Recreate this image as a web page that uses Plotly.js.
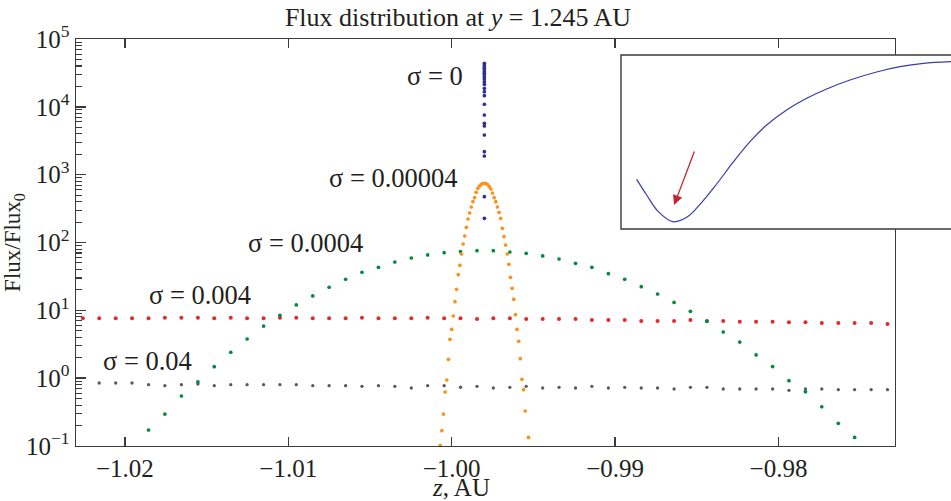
<!DOCTYPE html>
<html>
<head>
<meta charset="utf-8">
<script src="https://cdn.plot.ly/plotly-3.0.1.min.js"></script>
<style>
html,body{margin:0;padding:0;overflow:hidden;background:#fff;}
#chart{width:951px;height:501px;}
</style>
</head>
<body>
<div id="chart"></div>
<script>
// ---- data ----
// common z grid (AU) for sigma = 0.0004, 0.004, 0.04
const zGrid = [-1.02257,-1.02157,-1.02056,-1.01956,-1.01855,-1.01755,-1.01654,-1.01553,-1.01453,-1.01352,
  -1.01252,-1.01151,-1.01051,-1.00951,-1.00850,-1.00750,-1.00649,-1.00549,-1.00448,-1.00348,
  -1.00247,-1.00147,-1.00046,-0.99946,-0.99845,-0.99745,-0.99644,-0.99544,-0.99443,-0.99343,
  -0.99242,-0.99142,-0.99041,-0.98941,-0.98840,-0.98740,-0.98639,-0.98539,-0.98438,-0.98338,
  -0.98237,-0.98137,-0.98036,-0.97936,-0.97835,-0.97735,-0.97634,-0.97534,-0.97433,-0.97333];

// sigma = 0.004 (red), all 50 grid points
const fluxS004 = [7.63,7.63,7.63,7.63,7.63,7.79,7.79,7.79,7.63,7.79,7.63,7.63,7.79,7.79,7.63,7.63,7.63,7.79,7.63,7.63,
  7.63,7.79,7.63,7.63,7.45,7.63,7.63,7.45,7.45,7.45,7.45,7.20,7.20,7.20,6.96,6.96,6.96,7.20,6.96,6.96,
  6.80,6.80,6.80,6.66,6.66,6.51,6.51,6.51,6.51,6.29];

// sigma = 0.04 (grey), grid points 1..49
const zS04 = zGrid.slice(1);
const fluxS04 = [0.849,0.849,0.849,0.801,0.774,0.801,0.82,0.774,0.801,0.801,0.801,0.801,0.801,0.774,0.774,0.774,0.759,0.774,0.759,0.716,
  0.774,0.774,0.735,0.759,0.716,0.732,0.759,0.716,0.732,0.716,0.759,0.716,0.732,0.716,0.716,0.692,0.732,0.732,0.692,0.692,
  0.692,0.692,0.662,0.692,0.692,0.677,0.677,0.677,0.677];

// sigma = 0.0004 (green), grid points 4..47
const zS0004 = zGrid.slice(4, 48);
const fluxS0004 = [0.172,0.296,0.546,0.879,1.476,2.41,3.78,5.87,8.45,12.0,16.3,21.9,28.7,36.4,43.1,51.6,59.1,65.5,70.8,73.2,
  75.7,75.7,72.4,69.3,63.3,57.1,49.4,43.1,34.7,28.7,22.3,17.4,13.1,9.68,6.89,4.79,3.41,2.20,1.48,0.918,
  0.633,0.379,0.216,0.134];

// sigma = 0.00004 (orange), fine grid
const zS00004 = [-1.0007,-1.0006,-1.0005,-1.0004,-1.0003,-1.0002,-1.0001,-1.0000,-0.9999,-0.9998,
  -0.9997,-0.9996,-0.9995,-0.9994,-0.9993,-0.9992,-0.9991,-0.9990,-0.9989,-0.9988,
  -0.9987,-0.9986,-0.9985,-0.9984,-0.9983,-0.9982,-0.9981,-0.9980,
  -0.9979,-0.9978,-0.9977,-0.9976,-0.9975,-0.9974,-0.9973,-0.9972,-0.9971,-0.9970,
  -0.9969,-0.9968,-0.9967,-0.9966,-0.9965,-0.9964,-0.9963,-0.9962,-0.9961,-0.9960,
  -0.9959,-0.9958,-0.9957,-0.9956,-0.9955,-0.9953];
const fluxS00004 = [0.1024,0.168,0.296,0.625,0.940,1.898,3.742,5.254,8.254,13.41,
  20.43,33.53,46.13,67.69,95.1,124.7,167.6,222.2,272.4,333.9,
  399.6,457.8,549.9,629.9,681.1,714.2,738.9,746.4,
  738.9,714.2,665.1,615.2,537.0,457.8,399.6,333.9,278.9,227.5,
  162.0,121.8,91.9,67.69,47.7,30.7,21.1,14.55,8.62,5.25,
  3.50,1.936,0.962,0.676,0.328,0.134];

// sigma = 0 (blue), a single column
const zS0 = [-0.9980,-0.9980,-0.9980,-0.9980,-0.9980,-0.9980,-0.9980,-0.9980,-0.9980,-0.9980,-0.9980,-0.9980,
  -0.9980,-0.9980,-0.9980,-0.9980,-0.9980,-0.9980,-0.9980,-0.9980,-0.9980,-0.9980,-0.9980,-0.9980];
const fluxS0 = [43850,41400,39080,36990,34920,32970,31250,29500,27550,25760,23500,21490,
  18760,16720,14590,10910,7585,5717,5220,3846,2183,1885,473.5,227.5];

// inset curve (arbitrary normalised units)
const insetX = [0.0475,0.0778,0.1131,0.1566,0.1990,0.2394,0.2899,0.3404,0.3909,0.4414,0.5020,0.5626,0.6232,0.6939,0.7747,0.8455,0.9162,1.0];
const insetY = [0.2854,0.1954,0.0996,0.0421,0.0670,0.1418,0.2586,0.3851,0.5019,0.5977,0.6839,0.7510,0.8046,0.8563,0.9023,0.9330,0.9521,0.9617];

// tick labels
const xTickVals = [-1.02,-1.01,-1.00,-0.99,-0.98];
const xTickText = ['\u22121.02','\u22121.01','\u22121.00','\u22120.99','\u22120.98'];
const yTickVals = [0.1,1,10,100,1000,10000,100000];
const yTickText = ['10<sup>\u22121</sup>','10<sup>0</sup>','10<sup>1</sup>','10<sup>2</sup>','10<sup>3</sup>','10<sup>4</sup>','10<sup>5</sup>'];

const labels = [
  {text:'\u03c3 = 0', z:-1.00102, ly:4.455},
  {text:'\u03c3 = 0.00004', z:-1.00357, ly:2.947},
  {text:'\u03c3 = 0.0004', z:-1.00894, ly:1.993},
  {text:'\u03c3 = 0.004', z:-1.01539, ly:1.226},
  {text:'\u03c3 = 0.04', z:-1.0186, ly:0.253}
];

// ---- styles ----
const FONT = 'Liberation Serif, Times New Roman, serif';
const INK = '#231f20';
const AX = '#3a3a3a';

const minorVals = [];
for (let p = -1; p < 5; p++) for (let k = 2; k <= 9; k++) minorVals.push(k * Math.pow(10, p));

function pts(x, y, color, size) {
  return {x:x, y:y, type:'scatter', mode:'markers', xaxis:'x', yaxis:'y',
    marker:{color:color, size:size, line:{width:0}}, hoverinfo:'skip', showlegend:false};
}

const traces = [
  pts(zS04, fluxS04, '#5a5a5c', 3.3),
  pts(zGrid, fluxS004, '#e8262c', 4),
  pts(zS0004, fluxS0004, '#008a3e', 3.7),
  pts(zS00004, fluxS00004, '#f7931e', 3.7),
  pts(zS0, fluxS0, '#2e3192', 3.7),
  {x:insetX, y:insetY, type:'scatter', mode:'lines', xaxis:'x2', yaxis:'y2',
   line:{color:'#3c3ca8', width:1.2, shape:'spline', smoothing:1}, hoverinfo:'skip', showlegend:false}
];

const W = 951, H = 501, L = 76, R = 0, T = 39, B = 55;
const pw = W - L - R, ph = H - T - B;
const px2paperX = p => (p - L) / pw;
const px2paperY = p => (H - B - p) / ph;

const annotations = labels.map(l => ({
  text:l.text, x:l.z, y:l.ly, xref:'x', yref:'y', showarrow:false,
  xanchor:'center', yanchor:'middle', font:{family:FONT, size:26.5, color:INK}
}));
annotations.push({text:'<i>z</i>, AU', xref:'paper', yref:'paper', x:px2paperX(461), y:px2paperY(487),
  xanchor:'center', yanchor:'middle', showarrow:false, font:{family:FONT, size:25, color:INK}});
annotations.push({text:'', x:0.161, y:0.138, xref:'x2', yref:'y2', ax:0.224, ay:0.454, axref:'x2', ayref:'y2',
  showarrow:true, arrowhead:2, arrowsize:1.5, arrowwidth:1.3, arrowcolor:'#c4262e'});

const layout = {
  width:W, height:H,
  margin:{l:L, r:R, t:T, b:B, pad:0},
  paper_bgcolor:'#fff', plot_bgcolor:'#fff',
  font:{family:FONT, size:25, color:INK},
  showlegend:false,
  title:{text:'Flux distribution at <i>y</i> = 1.245 AU', font:{family:FONT, size:26, color:INK},
    x:px2paperX(458), xref:'paper', xanchor:'center', y:1 - 17/H, yref:'container', yanchor:'middle'},
  xaxis:{domain:[0, (895 - L) / pw], range:[-1.02299, -0.97287], showgrid:false, zeroline:false,
    showline:true, linecolor:AX, linewidth:1.4, mirror:'ticks',
    ticks:'inside', ticklen:9, tickwidth:1.4, tickcolor:AX,
    tickmode:'array', tickvals:xTickVals, ticktext:xTickText,
    tickfont:{family:FONT, size:25, color:INK}, anchor:'y'},
  yaxis:{type:'log', range:[-1, 5], showgrid:false, zeroline:false,
    showline:true, linecolor:AX, linewidth:1.4, mirror:true,
    ticks:'inside', ticklen:10, tickwidth:1.4, tickcolor:AX,
    tickmode:'array', tickvals:yTickVals, ticktext:yTickText,
    minor:{tickmode:'array', tickvals:minorVals, ticks:'inside', ticklen:5.5, tickwidth:1.1, tickcolor:AX, showgrid:false},
    tickfont:{family:FONT, size:25, color:INK}, anchor:'x',
    title:{text:'Flux/Flux<sub>0</sub>', font:{family:FONT, size:23, color:INK}, standoff:0}},
  xaxis2:{domain:[px2paperX(621), 1], range:[0, 1], visible:false, anchor:'y2', fixedrange:true},
  yaxis2:{domain:[px2paperY(229), px2paperY(55)], range:[0, 1], visible:false, anchor:'x2', fixedrange:true},
  shapes:[{type:'rect', xref:'paper', yref:'paper', x0:px2paperX(621), x1:1.05, y0:px2paperY(229), y1:px2paperY(55),
    line:{color:AX, width:1.4}, fillcolor:'rgba(0,0,0,0)', layer:'above'}],
  annotations:annotations
};

Plotly.newPlot('chart', traces, layout, {displayModeBar:false, staticPlot:true});
</script>
</body>
</html>
